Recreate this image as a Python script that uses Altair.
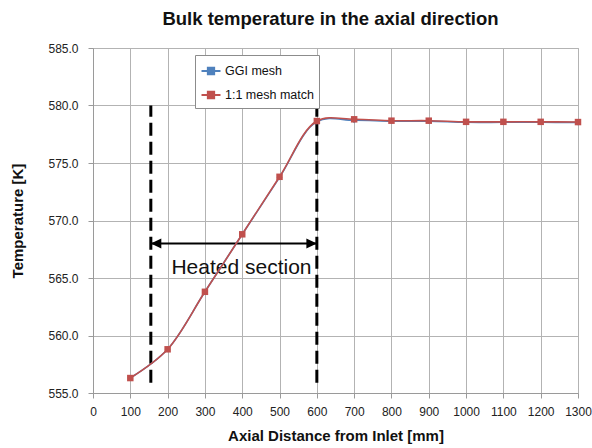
import altair as alt
import pandas as pd

# Axial positions (mm) and bulk temperatures (K) for both meshes
distance = [100, 200, 300, 400, 500, 600, 700, 800, 900, 1000, 1100, 1200, 1300]
ggi_temp = [556.3, 558.8, 563.8, 568.8, 573.75, 578.6, 578.72, 578.64, 578.64, 578.54, 578.54, 578.54, 578.52]
match_temp = [556.3, 558.8, 563.8, 568.8, 573.8, 578.65, 578.8, 578.68, 578.68, 578.58, 578.58, 578.58, 578.56]
series_names = ["GGI mesh", "1:1 mesh match"]
series_colors = ["#4F81BD", "#C0504D"]

# Axis tick positions
x_ticks = list(range(0, 1301, 100))
y_ticks = list(range(555, 586, 5))

# Heated section annotation (start/end in mm, vertical extent and arrow level in K)
heated_start = [155]
heated_end = [600]
marker_low = [555.9]
marker_high = [580.0]
arrow_level = [568.0]
label_text = ["Heated section"]
label_pos = [398]
label_level = [565.35]

FONT = "Liberation Sans"

df = pd.DataFrame({
    "x": distance * 2,
    "T": ggi_temp + match_temp,
    "series": [series_names[0]] * len(distance) + [series_names[1]] * len(distance),
    "order": [0] * len(distance) + [1] * len(distance),
})

x_scale = alt.Scale(domain=[0, 1300], nice=False, zero=False)
y_scale = alt.Scale(domain=[555, 585], nice=False, zero=False)
color_scale = alt.Scale(domain=series_names, range=series_colors)

x_axis = alt.Axis(
    values=x_ticks, format="d", labelOverlap=False, title="Axial Distance from Inlet [mm]",
    labelFont=FONT, labelFontSize=12, labelColor="#222", labelPadding=8,
    titleFont=FONT, titleFontSize=15, titleFontWeight="bold", titleColor="#111", titlePadding=11,
    grid=True, gridColor="#b3b3b3", domainColor="#9a9a9a", tickColor="#9a9a9a", tickSize=5,
    labelFlush=False,
)
y_axis = alt.Axis(
    values=y_ticks, format=".1f", labelOverlap=False, title="Temperature [K]",
    labelFont=FONT, labelFontSize=12, labelColor="#222", labelPadding=10,
    titleFont=FONT, titleFontSize=15, titleFontWeight="bold", titleColor="#111", titlePadding=22,
    grid=True, gridColor="#b3b3b3", domainColor="#9a9a9a", tickColor="#9a9a9a", tickSize=5,
)


def xenc(field):
    return alt.X(field, scale=x_scale, axis=x_axis)


def yenc(field):
    return alt.Y(field, scale=y_scale, axis=y_axis)


lines = alt.Chart(df).mark_line(interpolate="catmull-rom", strokeWidth=1.6).encode(
    x=xenc("x:Q"),
    y=yenc("T:Q"),
    color=alt.Color(
        "series:N", scale=color_scale, sort=series_names,
        legend=alt.Legend(
            orient="none", legendX=102, legendY=7, title=None,
            strokeColor="#8c8c8c", fillColor="white", padding=5,
            labelFont=FONT, labelFontSize=12.5, labelColor="#111", labelOffset=3,
            symbolType="M-1,0H1M-0.32,-0.32H0.32V0.32H-0.32Z",
            symbolSize=360, symbolStrokeWidth=2.2, rowPadding=5,
        ),
    ),
    order="order:Q",
    detail="series:N",
)

ggi_points = alt.Chart(df[df["series"] == series_names[0]]).mark_point(
    shape="diamond", filled=True, size=35, opacity=1
).encode(
    x=xenc("x:Q"),
    y=yenc("T:Q"),
    color=alt.Color("series:N", scale=color_scale, legend=None),
)

match_points = alt.Chart(df[df["series"] == series_names[1]]).mark_point(
    shape="square", filled=True, size=42, opacity=1
).encode(
    x=xenc("x:Q"),
    y=yenc("T:Q"),
    color=alt.Color("series:N", scale=color_scale, legend=None),
)

bounds = pd.DataFrame({
    "x": heated_start + heated_end,
    "lo": marker_low * 2,
    "hi": marker_high * 2,
})
dashed = alt.Chart(bounds).mark_rule(color="black", strokeWidth=3, strokeDash=[13, 6]).encode(
    x=xenc("x:Q"),
    y=yenc("lo:Q"),
    y2="hi:Q",
)

arrow_df = pd.DataFrame({"x": heated_start, "x2": heated_end, "y": arrow_level})
arrow_line = alt.Chart(arrow_df).mark_rule(color="black", strokeWidth=2).encode(
    x=xenc("x:Q"),
    x2="x2:Q",
    y=yenc("y:Q"),
)

heads = pd.DataFrame({
    "x": heated_start + heated_end,
    "y": arrow_level * 2,
    "dir": ["left", "right"],
})
# arrowhead paths have their tip at the anchor point
head_paths = ["M0,0L2,-0.95L2,0.95Z", "M0,0L-2,-0.95L-2,0.95Z"]
arrow_heads = alt.Chart(heads).mark_point(filled=True, color="black", opacity=1, size=110).encode(
    x=xenc("x:Q"),
    y=yenc("y:Q"),
    shape=alt.Shape("dir:N", scale=alt.Scale(domain=["left", "right"], range=head_paths), legend=None),
)

label_df = pd.DataFrame({"x": label_pos, "y": label_level, "t": label_text})
label = alt.Chart(label_df).mark_text(
    font=FONT, fontSize=21, color="#111", align="center", baseline="alphabetic"
).encode(
    x=xenc("x:Q"),
    y=yenc("y:Q"),
    text="t:N",
)

chart = alt.layer(
    dashed, arrow_line, arrow_heads, label, lines, ggi_points, match_points
).properties(
    width=485,
    height=345,
    autosize="none",
    padding={"left": 93, "top": 48, "right": 14, "bottom": 55},
    title=alt.TitleParams(
        "Bulk temperature in the axial direction",
        font=FONT, fontSize=18.5, fontWeight="bold", color="#111", offset=14, anchor="middle", dx=-5,
    ),
    background="white",
).configure_view(
    stroke="#b8b8b8", strokeWidth=1
)

chart.save("out.html", embed_options={"renderer": "svg", "actions": False})
